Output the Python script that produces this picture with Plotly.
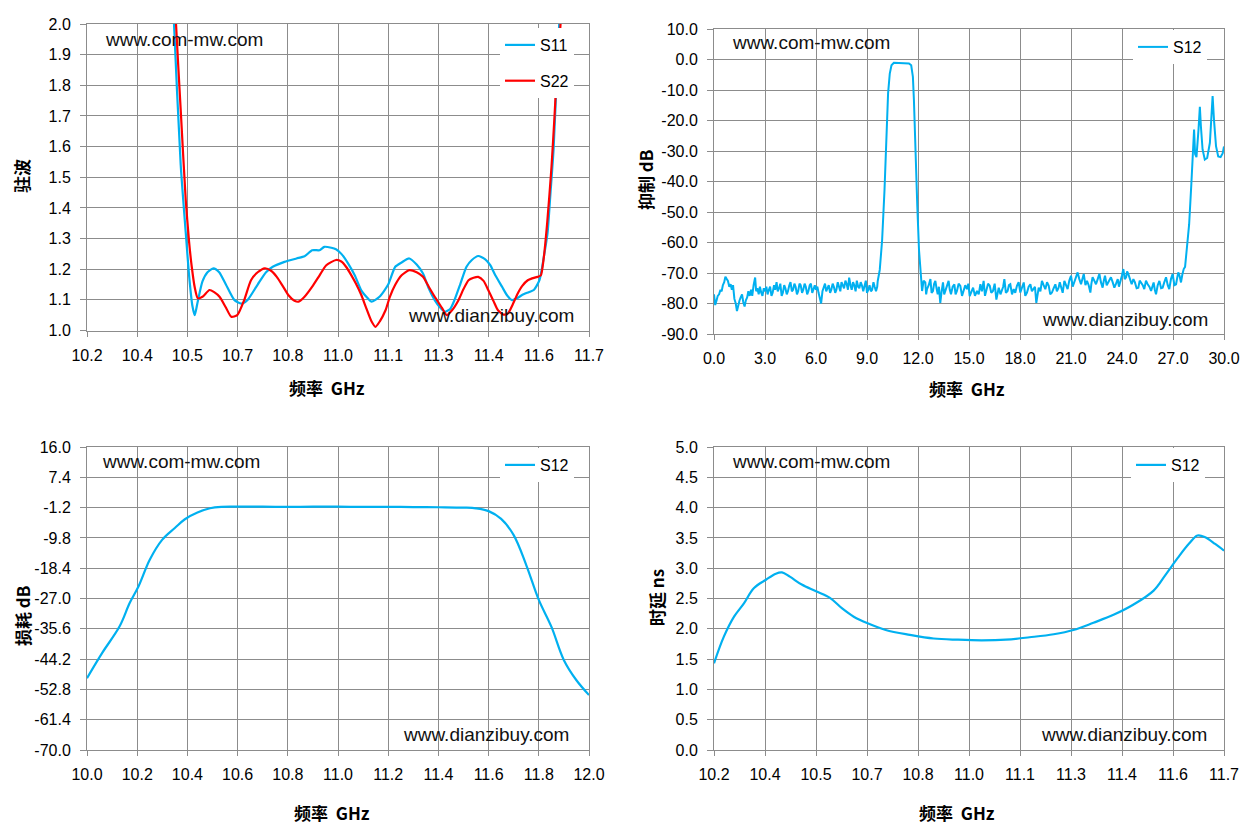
import plotly.graph_objects as go
from plotly.subplots import make_subplots

# ---------------- data ----------------
# VSWR (top left)
s11_freq = [10.44, 10.46, 10.48, 10.495, 10.505, 10.515, 10.522, 10.53, 10.545, 10.56, 10.578, 10.595,
            10.615, 10.64, 10.661, 10.68, 10.71, 10.735, 10.755, 10.79, 10.826, 10.85, 10.873, 10.895,
            10.909, 10.93, 10.944, 10.96, 10.98, 11.0, 11.02, 11.039, 11.05, 11.074, 11.1, 11.121,
            11.14, 11.163, 11.185, 11.204, 11.22, 11.239, 11.255, 11.269, 11.285, 11.298, 11.315,
            11.334, 11.35, 11.369, 11.39, 11.405, 11.42, 11.44, 11.455, 11.47, 11.485, 11.499, 11.52,
            11.535, 11.552, 11.565, 11.576, 11.585, 11.594, 11.605, 11.611, 11.62]
s11_vswr = [2.6, 2.0, 1.54, 1.32, 1.18, 1.08, 1.05, 1.09, 1.16, 1.19, 1.203, 1.19,
            1.15, 1.10, 1.088, 1.10, 1.15, 1.19, 1.208, 1.224, 1.235, 1.242, 1.262, 1.262,
            1.273, 1.27, 1.265, 1.25, 1.219, 1.18, 1.13, 1.105, 1.094, 1.110, 1.15, 1.208,
            1.222, 1.235, 1.215, 1.186, 1.14, 1.099, 1.075, 1.061, 1.07, 1.099, 1.15,
            1.208, 1.23, 1.243, 1.232, 1.213, 1.18, 1.143, 1.115, 1.099, 1.105, 1.115, 1.125,
            1.132, 1.164, 1.24, 1.317, 1.45, 1.589, 1.862, 2.0, 2.4]

s22_freq = [10.44, 10.466, 10.48, 10.495, 10.505, 10.513, 10.522, 10.531, 10.545, 10.566, 10.58, 10.596,
            10.615, 10.631, 10.649, 10.67, 10.69, 10.71, 10.731, 10.75, 10.767, 10.785, 10.802, 10.82,
            10.832, 10.85, 10.873, 10.895, 10.915, 10.944, 10.96, 10.974, 10.99, 11.003, 11.02, 11.033,
            11.05, 11.062, 11.075, 11.092, 11.105, 11.121, 11.14, 11.163, 11.185, 11.204, 11.22,
            11.239, 11.26, 11.275, 11.29, 11.31, 11.325, 11.34, 11.355, 11.369, 11.385, 11.399,
            11.415, 11.428, 11.445, 11.458, 11.472, 11.487, 11.5, 11.517, 11.53, 11.546, 11.556,
            11.564, 11.575, 11.588, 11.597, 11.605, 11.615, 11.625]
s22_vswr = [2.7, 2.0, 1.72, 1.426, 1.29, 1.208, 1.14, 1.105, 1.11, 1.132, 1.125, 1.11,
            1.075, 1.045, 1.05, 1.10, 1.164, 1.19, 1.203, 1.195, 1.175, 1.145, 1.115, 1.097,
            1.094, 1.11, 1.143, 1.18, 1.213, 1.23, 1.225, 1.208, 1.18, 1.154, 1.115, 1.077,
            1.03, 1.012, 1.03, 1.066, 1.11, 1.149, 1.18, 1.197, 1.19, 1.175, 1.145,
            1.11, 1.075, 1.05, 1.065, 1.099, 1.135, 1.164, 1.172, 1.175, 1.162, 1.132,
            1.095, 1.066, 1.052, 1.056, 1.085, 1.121, 1.145, 1.164, 1.17, 1.175, 1.18,
            1.23, 1.35, 1.535, 1.70, 1.862, 2.0, 2.4]

# wideband rejection (top right)
wide_freq = [
    0.00, 0.07, 0.15, 0.22, 0.30, 0.38, 0.45, 0.52, 0.60, 0.67, 0.75, 0.82, 0.90, 0.98, 1.05, 1.12,
    1.20, 1.28, 1.35, 1.42, 1.50, 1.57, 1.65, 1.72, 1.80, 1.87, 1.95, 2.02, 2.10, 2.18, 2.25, 2.33,
    2.42, 2.48, 2.55, 2.63, 2.70, 2.78, 2.85, 2.93, 3.00, 3.08, 3.15, 3.23, 3.30, 3.38, 3.45, 3.53,
    3.60, 3.68, 3.75, 3.83, 3.90, 3.98, 4.05, 4.13, 4.20, 4.28, 4.35, 4.43, 4.50, 4.58, 4.65, 4.73,
    4.80, 4.88, 4.95, 5.03, 5.10, 5.18, 5.25, 5.33, 5.40, 5.48, 5.55, 5.63, 5.70, 5.78, 5.85, 5.93,
    6.00, 6.08, 6.15, 6.22, 6.30, 6.38, 6.45, 6.53, 6.60, 6.68, 6.75, 6.83, 6.90, 6.98, 7.05, 7.13,
    7.20, 7.28, 7.35, 7.43, 7.50, 7.58, 7.65, 7.73, 7.80, 7.88, 7.95, 8.03, 8.10, 8.18, 8.25, 8.33,
    8.40, 8.48, 8.55, 8.63, 8.70, 8.78, 8.85, 8.93, 9.00, 9.08, 9.15, 9.23, 9.30, 9.38, 9.45, 9.53,
    9.60,
    9.63, 9.75, 9.89, 10.03, 10.14, 10.24, 10.34, 10.44, 10.58, 10.97, 11.47, 11.60, 11.70, 11.76,
    11.84, 11.96, 12.06, 12.16,
    12.24, 12.33, 12.43, 12.48, 12.53, 12.63, 12.73, 12.80, 12.88, 12.95, 13.02, 13.09, 13.16, 13.23,
    13.31, 13.39, 13.47, 13.54, 13.61, 13.70, 13.80, 13.87, 13.94, 14.04, 14.14, 14.21, 14.29, 14.39,
    14.49, 14.59, 14.69, 14.78, 14.88, 14.96, 15.04, 15.14, 15.24, 15.35, 15.47, 15.57, 15.67, 15.76,
    15.86, 15.94, 16.02, 16.12, 16.22, 16.31, 16.41, 16.51, 16.61, 16.68, 16.75, 16.85, 16.94, 17.01,
    17.08, 17.17, 17.27, 17.35, 17.43, 17.53, 17.63, 17.72, 17.82, 17.92, 18.02, 18.12, 18.22, 18.31,
    18.41, 18.51, 18.61, 18.70, 18.80, 18.88, 18.96, 19.03, 19.10, 19.20, 19.29, 19.39, 19.49, 19.59,
    19.69, 19.78, 19.88, 19.98, 20.08, 20.17, 20.27, 20.34, 20.41, 20.51, 20.61, 20.70, 20.80, 20.90,
    21.00, 21.10, 21.20, 21.30, 21.39, 21.49, 21.59, 21.67, 21.75, 21.85, 21.94, 22.04, 22.14, 22.20,
    22.27, 22.37, 22.47, 22.57, 22.67, 22.76, 22.86, 22.93, 23.00, 23.10, 23.20, 23.27, 23.35, 23.45,
    23.55, 23.65, 23.75, 23.82, 23.90, 23.99, 24.08, 24.16, 24.24, 24.30, 24.37, 24.47, 24.57, 24.67,
    24.76, 24.86, 24.96, 25.04, 25.12, 25.22, 25.31, 25.41, 25.51, 25.61, 25.71, 25.79, 25.86, 25.93,
    26.00, 26.10, 26.20, 26.30, 26.39, 26.49, 26.59, 26.69, 26.78, 26.88, 26.98, 27.08, 27.18, 27.25,
    27.31, 27.39, 27.47, 27.55, 27.63, 27.71,
    27.83, 27.95, 28.08, 28.18, 28.24, 28.30, 28.38, 28.50, 28.58, 28.64, 28.74, 28.87, 29.01, 29.17,
    29.27, 29.33, 29.41, 29.53, 29.66, 29.80, 29.92, 30.00]
wide_s12 = [
    -77.0, -80.5, -79.0, -77.5, -77.0, -75.5, -76.0, -74.0, -73.0, -71.2, -72.0, -72.6, -74.5, -73.7, -75.5, -74.0,
    -78.5, -80.0, -82.5, -80.5, -79.0, -78.0, -77.0, -79.5, -81.0, -79.0, -78.0, -76.0, -77.5, -75.5, -77.5, -74.0,
    -71.5, -76.0, -75.0, -77.0, -74.5, -76.5, -77.5, -75.0, -76.0, -74.5, -77.0, -75.5, -74.5, -77.5, -76.5, -74.0,
    -75.5, -73.0, -76.0, -75.0, -73.5, -77.5, -76.5, -74.0, -75.0, -77.0, -76.0, -74.0, -73.0, -76.0, -75.5, -73.5,
    -74.5, -77.0, -76.0, -73.5, -74.0, -76.5, -75.5, -73.5, -74.5, -77.0, -76.0, -74.0, -73.5, -76.5, -75.5, -74.0,
    -75.5, -74.5, -76.5, -78.5, -80.0, -76.0, -75.0, -73.5, -76.0, -75.0, -74.0, -76.5, -75.5, -73.5, -74.5, -76.5,
    -75.5, -73.0, -74.5, -76.0, -73.0, -74.5, -75.0, -72.5, -73.5, -75.5, -71.5, -74.0, -75.5, -73.0, -74.0, -76.0,
    -72.5, -74.5, -75.0, -73.0, -74.0, -76.0, -74.0, -72.5, -76.5, -75.5, -74.0, -76.0, -75.5, -73.0, -74.5, -76.0,
    -74.5,
    -72.7, -69.0, -59.2, -42.8, -25.4, -11.1, -4.6, -1.9, -1.1, -1.1, -1.3, -1.9, -5.7, -13.3,
    -29.7, -48.3, -62.5, -72.3,
    -75.9, -72.5, -73.1, -77.0, -75.3, -74.0, -72.0, -76.5, -75.9, -73.5, -72.6, -75.0, -77.0, -74.5,
    -79.8, -76.0, -73.1, -77.0, -75.9, -74.0, -72.6, -75.5, -77.0, -74.5, -73.7, -77.0, -75.9, -73.5,
    -74.2, -77.5, -75.9, -74.0, -75.3, -73.5, -77.6, -76.0, -74.8, -77.5, -75.9, -77.0, -73.7, -76.0,
    -72.6, -77.5, -75.9, -73.5, -74.2, -76.5, -75.9, -73.5, -78.7, -76.0, -74.8, -77.0, -75.9, -74.5,
    -72.0, -76.5, -75.9, -74.0, -73.7, -77.0, -75.3, -76.5, -74.2, -73.0, -76.4, -75.0, -73.1, -77.5,
    -76.4, -74.5, -73.7, -76.0, -75.3, -74.5, -79.8, -76.5, -74.8, -76.0, -72.6, -74.0, -75.3, -73.0,
    -74.2, -77.0, -76.4, -75.0, -73.7, -76.0, -74.8, -73.0, -74.8, -76.5, -72.6, -74.0, -75.3, -72.5,
    -70.9, -74.5, -72.6, -71.5, -69.8, -72.0, -73.7, -72.0, -70.3, -74.0, -72.6, -74.0, -76.4, -73.5,
    -71.4, -72.5, -73.7, -72.0, -70.3, -73.0, -74.8, -72.5, -70.9, -74.0, -73.1, -72.0, -71.4, -73.0,
    -74.8, -73.5, -72.0, -74.5, -73.1, -71.0, -68.7, -72.0, -71.4, -69.5, -70.3, -72.5, -73.7, -72.0,
    -73.1, -75.0, -74.8, -72.5, -73.1, -74.0, -75.3, -72.5, -73.7, -74.5, -75.9, -74.0, -73.1, -75.5,
    -77.0, -74.0, -72.6, -75.0, -74.8, -73.0, -71.4, -74.0, -75.3, -72.0, -70.3, -74.0, -73.7, -71.5,
    -69.8, -71.0, -73.1, -70.5, -68.7, -68.0,
    -61.5, -54.0, -40.7, -30.9, -23.0, -31.0, -32.0, -23.0, -15.5, -21.8, -29.5, -32.8, -32.3, -27.3,
    -18.5, -12.0, -19.7, -28.4, -31.8, -32.0, -30.8, -28.5]

# insertion loss (bottom left)
loss_freq = [10.0, 10.06, 10.13, 10.17, 10.205, 10.25, 10.3, 10.35, 10.39, 10.44, 10.49, 10.535,
             10.6, 10.7, 10.8, 10.9, 11.0, 11.1, 11.2, 11.3, 11.4, 11.5, 11.55, 11.6, 11.65,
             11.7, 11.75, 11.8, 11.85, 11.9, 11.95, 12.0]
loss_s12 = [-49.6, -42.5, -34.9, -28.3, -23.6, -16.0, -10.3, -7.0, -4.5, -2.6, -1.4, -1.0,
            -0.95, -0.95, -1.0, -0.95, -0.95, -1.0, -1.0, -1.05, -1.1, -1.2, -1.4, -2.2, -4.4,
            -9.0, -17.5, -27.4, -35.0, -44.5, -50.2, -54.4]

# group delay (bottom right)
delay_freq = [10.2, 10.229, 10.259, 10.288, 10.317, 10.353, 10.382, 10.4, 10.423, 10.458, 10.5,
              10.541, 10.576, 10.611, 10.652, 10.705, 10.776, 10.846, 10.917, 10.987, 11.058,
              11.128, 11.199, 11.257, 11.316, 11.375, 11.434, 11.493, 11.528, 11.564, 11.598,
              11.622, 11.645, 11.674, 11.7]
delay_s12 = [1.43, 1.87, 2.2, 2.42, 2.67, 2.81, 2.91, 2.93, 2.86, 2.73, 2.62,
             2.51, 2.34, 2.2, 2.09, 1.98, 1.9, 1.84, 1.82, 1.81, 1.82,
             1.86, 1.91, 1.98, 2.1, 2.23, 2.4, 2.63, 2.89, 3.17, 3.41,
             3.54, 3.51, 3.4, 3.29]

# tick values / labels
band_ticks = [10.2, 10.35, 10.5, 10.65, 10.8, 10.95, 11.1, 11.25, 11.4, 11.55, 11.7]
band_ticktext = ["10.2", "10.4", "10.5", "10.7", "10.8", "11.0", "11.1", "11.3", "11.4", "11.6", "11.7"]
vswr_ticks = [1.0, 1.1, 1.2, 1.3, 1.4, 1.5, 1.6, 1.7, 1.8, 1.9, 2.0]
wide_xticks = [0, 3, 6, 9, 12, 15, 18, 21, 24, 27, 30]
wide_yticks = [-90, -80, -70, -60, -50, -40, -30, -20, -10, 0, 10]
loss_xticks = [10.0, 10.2, 10.4, 10.6, 10.8, 11.0, 11.2, 11.4, 11.6, 11.8, 12.0]
loss_yticks = [-70.0, -61.4, -52.8, -44.2, -35.6, -27.0, -18.4, -9.8, -1.2, 7.4, 16.0]
delay_yticks = [0.0, 0.5, 1.0, 1.5, 2.0, 2.5, 3.0, 3.5, 4.0, 4.5, 5.0]

BLUE = "#00B0F0"
RED = "#FF0000"
GRID = "#8C8C8C"
# page body has an 8px margin, so the figure is drawn 16px smaller than the window
PAD = 8
W, H = 1256 - 2 * PAD, 835 - 2 * PAD


def px(x):
    return (x - PAD) / W


def py(y):
    return 1 - (y - PAD) / H


def labels(vals):
    return [f"{v:.1f}" for v in vals]


fig = make_subplots(rows=2, cols=2)

fig.add_trace(go.Scatter(x=s11_freq, y=s11_vswr, mode="lines", name="S11", legend="legend",
                         legendgroup="a", line=dict(color=BLUE, width=2.2, shape="spline", smoothing=0.6)),
              row=1, col=1)
fig.add_trace(go.Scatter(x=s22_freq, y=s22_vswr, mode="lines", name="S22", legend="legend",
                         legendgroup="b", line=dict(color=RED, width=2.2, shape="spline", smoothing=0.6)),
              row=1, col=1)
fig.add_trace(go.Scatter(x=wide_freq, y=wide_s12, mode="lines", name="S12", legend="legend2",
                         line=dict(color=BLUE, width=2)), row=1, col=2)
fig.add_trace(go.Scatter(x=loss_freq, y=loss_s12, mode="lines", name="S12", legend="legend3",
                         line=dict(color=BLUE, width=2.2, shape="spline")), row=2, col=1)
fig.add_trace(go.Scatter(x=delay_freq, y=delay_s12, mode="lines", name="S12", legend="legend4",
                         line=dict(color=BLUE, width=2.2, shape="spline")), row=2, col=2)

axis_style = dict(showgrid=True, gridcolor=GRID, gridwidth=1, showline=True, linecolor=GRID,
                  linewidth=1, mirror=True, ticks="outside", tickcolor=GRID, zeroline=False,
                  automargin=False,
                  tickfont=dict(family="Liberation Sans", size=16, color="black"), tickmode="array")

left_dom = [px(87), px(589)]
right_dom = [px(714), px(1224)]

fig.update_xaxes(axis_style, ticklen=5, ticklabelstandoff=5)
fig.update_yaxes(axis_style, ticklen=6, ticklabelstandoff=6)

fig.update_xaxes(domain=left_dom, range=[10.2, 11.7], tickvals=band_ticks, ticktext=band_ticktext, row=1, col=1)
fig.update_yaxes(domain=[py(330.5), py(24)], range=[1.0, 2.0], tickvals=vswr_ticks,
                 ticktext=labels(vswr_ticks), row=1, col=1)
fig.update_xaxes(domain=right_dom, range=[0, 30], tickvals=wide_xticks, ticktext=labels(wide_xticks), row=1, col=2)
fig.update_yaxes(domain=[py(334), py(29)], range=[-90, 10], tickvals=wide_yticks,
                 ticktext=labels(wide_yticks), row=1, col=2)
fig.update_xaxes(domain=left_dom, range=[10.0, 12.0], tickvals=loss_xticks, ticktext=labels(loss_xticks), row=2, col=1)
fig.update_yaxes(domain=[py(750), py(447)], range=[-70, 16], tickvals=loss_yticks,
                 ticktext=labels(loss_yticks), row=2, col=1)
fig.update_xaxes(domain=right_dom, range=[10.2, 11.7], tickvals=band_ticks, ticktext=band_ticktext, row=2, col=2)
fig.update_yaxes(domain=[py(750), py(447)], range=[0, 5], tickvals=delay_yticks,
                 ticktext=labels(delay_yticks), row=2, col=2)

legend_style = dict(bgcolor="white", borderwidth=0, xanchor="right", yanchor="top",
                    traceorder="grouped", tracegroupgap=12,
                    font=dict(family="Liberation Sans", size=16, color="black"))
fig.update_layout(
    width=W, height=H, margin=dict(l=0, r=0, t=0, b=0, autoexpand=False),
    plot_bgcolor="white", paper_bgcolor="white", showlegend=True,
    legend=dict(legend_style, x=px(574), y=py(28)),
    legend2=dict(legend_style, x=px(1207), y=py(30)),
    legend3=dict(legend_style, x=px(574), y=py(448)),
    legend4=dict(legend_style, x=px(1205), y=py(448)),
)

wm_font = dict(family="Liberation Sans", size=19, color="#111111")
title_font = dict(family="Noto Sans CJK SC", size=17, color="black")
notes = [
    ("www.com-mw.com", 103, 40, "left"), ("www.dianzibuy.com", 576, 315, "right"),
    ("www.com-mw.com", 730, 43, "left"), ("www.dianzibuy.com", 1210, 319, "right"),
    ("www.com-mw.com", 100, 461, "left"), ("www.dianzibuy.com", 571, 734, "right"),
    ("www.com-mw.com", 730, 461, "left"), ("www.dianzibuy.com", 1209, 734, "right"),
]
for text, x, y, anchor in notes:
    fig.add_annotation(text=text, x=px(x), y=py(y), xref="paper", yref="paper", xanchor=anchor,
                       yanchor="middle", showarrow=False, font=wm_font)

titles = [
    ("<b>频率  GHz</b>", 327, 387, 0), ("<b>频率  GHz</b>", 967, 388, 0),
    ("<b>频率  GHz</b>", 332, 812, 0), ("<b>频率  GHz</b>", 957, 812, 0),
    ("<b>驻波</b>", 22, 176, -90), ("<b>抑制 dB</b>", 645, 180, -90),
    ("<b>损耗 dB</b>", 22, 616, -90), ("<b>时延 ns</b>", 656, 598, -90),
]
for text, x, y, angle in titles:
    fig.add_annotation(text=text, x=px(x), y=py(y), xref="paper", yref="paper", xanchor="center",
                       yanchor="middle", showarrow=False, textangle=angle, font=title_font)

fig.write_html("out.html")
